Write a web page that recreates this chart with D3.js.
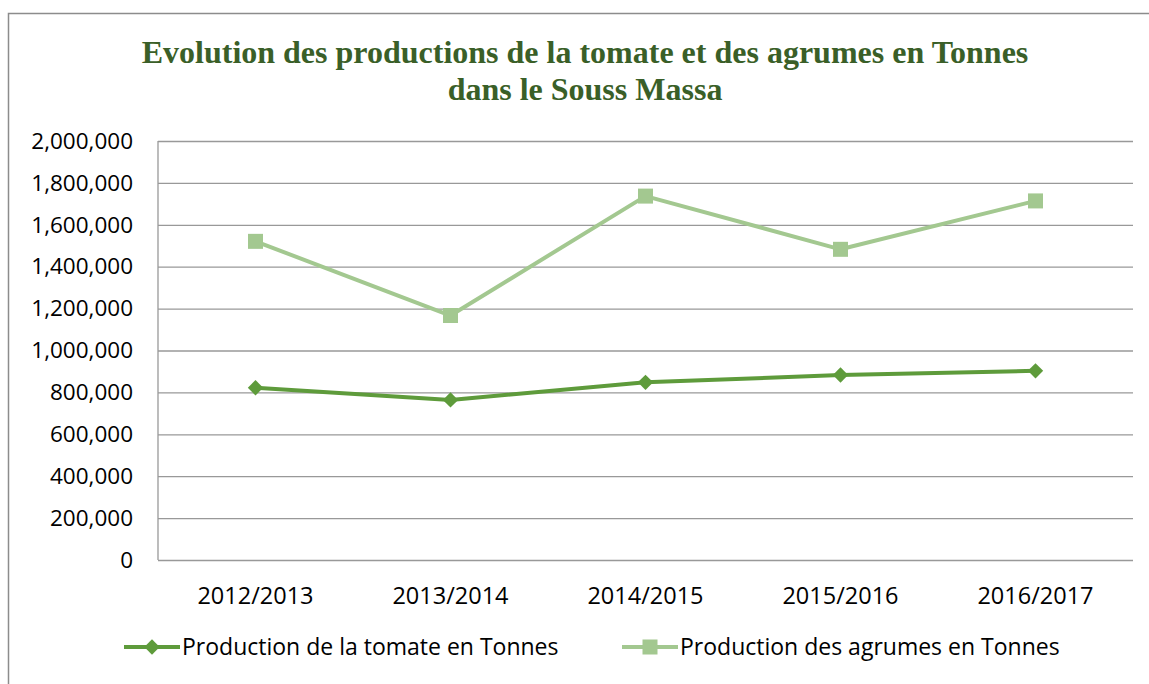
<!DOCTYPE html>
<html>
<head>
<meta charset="utf-8">
<script src="https://cdn.jsdelivr.net/npm/d3@7"></script>
<style>
  body { margin: 0; background: #fff; }
  svg { display: block; }
</style>
</head>
<body>
<div id="chart"></div>
<script>
const width = 1149;
const height = 684;

const titleLines = ["Evolution des productions de la tomate et des agrumes en Tonnes", "dans le Souss Massa"];
const years = ["2012/2013", "2013/2014", "2014/2015", "2015/2016", "2016/2017"];
const tomate = [822000, 764000, 848000, 883000, 903000];
const agrumes = [1521000, 1167000, 1737000, 1483000, 1714000];
const seriesNames = ["Production de la tomate en Tonnes", "Production des agrumes en Tonnes"];
const yTicks = [0, 200000, 400000, 600000, 800000, 1000000, 1200000, 1400000, 1600000, 1800000, 2000000];

const colTomate = "#5e9b3b";
const colAgrumes = "#a3c890";
const labelFont = "'Open Sans', sans-serif";

const margin = {top: 141, left: 158, right: 16, bottom: 124};

const svg = d3.select("#chart").append("svg")
  .attr("width", width)
  .attr("height", height);

// outer frame (cut off at right and bottom like the picture)
svg.append("path")
  .attr("d", `M8.5,${height}V13.5H${width}`)
  .attr("fill", "none")
  .attr("stroke", "#8c8c8c")
  .attr("stroke-width", 1.5);

const x = d3.scaleBand().domain(years).range([margin.left, width - margin.right]);
const y = d3.scaleLinear().domain([0, 2000000]).range([height - margin.bottom, margin.top]);

// title
svg.append("g").selectAll("text")
  .data(titleLines)
  .enter().append("text")
  .attr("x", 585)
  .attr("y", (d, i) => 63 + i * 37)
  .attr("text-anchor", "middle")
  .attr("font-family", "'Liberation Serif', 'Times New Roman', serif")
  .attr("font-weight", "bold")
  .attr("font-size", 32)
  .attr("fill", "#3a5f28")
  .text(d => d);

// gridlines
svg.append("g")
  .attr("transform", `translate(${margin.left},0)`)
  .call(d3.axisLeft(y).tickValues(yTicks).tickSize(-(width - margin.right - margin.left)).tickFormat(d3.format(",")))
  .call(g => g.select(".domain").remove())
  .call(g => g.selectAll(".tick line").attr("stroke", "#999").attr("stroke-width", 1.3))
  .call(g => g.selectAll(".tick text")
    .attr("x", -25)
    .attr("font-family", labelFont)
    .attr("font-size", 22.5)
    .attr("fill", "#000"));

// left axis line
svg.append("line")
  .attr("x1", margin.left).attr("x2", margin.left)
  .attr("y1", y(2000000)).attr("y2", y(0))
  .attr("stroke", "#999").attr("stroke-width", 1.3);

// category labels
svg.append("g")
  .attr("transform", `translate(0,${y(0)})`)
  .call(d3.axisBottom(x).tickSize(0))
  .call(g => g.select(".domain").remove())
  .call(g => g.selectAll(".tick text")
    .attr("dy", 0)
    .attr("y", 44)
    .attr("font-family", labelFont)
    .attr("font-size", 23.5)
    .attr("fill", "#000"));

const line = d3.line()
  .x((d, i) => x(years[i]) + x.bandwidth() / 2)
  .y(d => y(d));

const diamond = d3.symbol().type(d3.symbolDiamond2).size(150);

// agrumes
svg.append("path")
  .datum(agrumes)
  .attr("d", line)
  .attr("fill", "none")
  .attr("stroke", colAgrumes)
  .attr("stroke-width", 4)
  .attr("stroke-linejoin", "round");

svg.append("g").selectAll("rect")
  .data(agrumes)
  .enter().append("rect")
  .attr("x", (d, i) => x(years[i]) + x.bandwidth() / 2 - 7.5)
  .attr("y", d => y(d) - 7.5)
  .attr("width", 15)
  .attr("height", 15)
  .attr("fill", colAgrumes);

// tomate
svg.append("path")
  .datum(tomate)
  .attr("d", line)
  .attr("fill", "none")
  .attr("stroke", colTomate)
  .attr("stroke-width", 4)
  .attr("stroke-linejoin", "round");

svg.append("g").selectAll("path")
  .data(tomate)
  .enter().append("path")
  .attr("d", diamond)
  .attr("transform", (d, i) => `translate(${x(years[i]) + x.bandwidth() / 2},${y(d)})`)
  .attr("fill", colTomate);

// legend
const legendX = [124, 622];
const legend = svg.append("g").selectAll("g")
  .data(seriesNames)
  .enter().append("g")
  .attr("transform", (d, i) => `translate(${legendX[i]},647)`);

legend.append("line")
  .attr("x1", 0).attr("x2", 56)
  .attr("stroke", (d, i) => i === 0 ? colTomate : colAgrumes)
  .attr("stroke-width", 4);

legend.each(function(d, i) {
  const g = d3.select(this);
  if (i === 0) {
    g.append("path").attr("d", diamond).attr("transform", "translate(28,0)").attr("fill", colTomate);
  } else {
    g.append("rect").attr("x", 20.5).attr("y", -7.5).attr("width", 15).attr("height", 15).attr("fill", colAgrumes);
  }
});

legend.append("text")
  .attr("x", 58)
  .attr("dy", "0.35em")
  .attr("font-family", labelFont)
  .attr("font-size", 23)
  .attr("fill", "#000")
  .text(d => d);
</script>
</body>
</html>
